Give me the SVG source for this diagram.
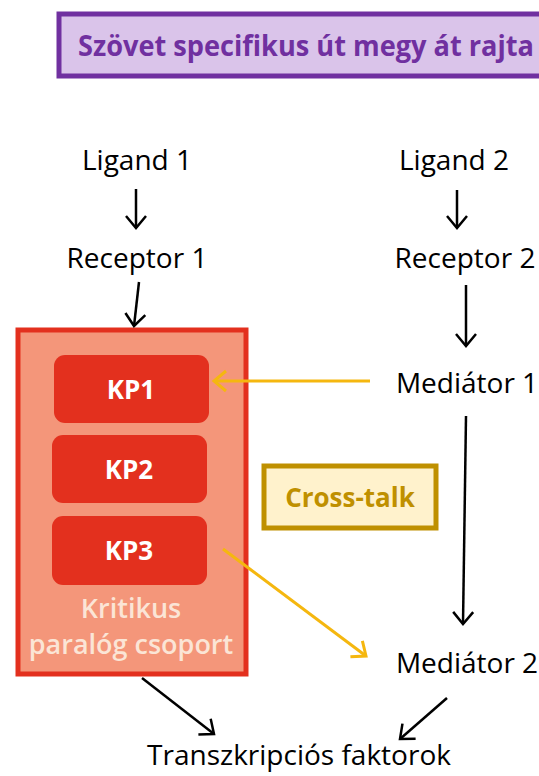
<svg xmlns="http://www.w3.org/2000/svg" width="539" height="776" viewBox="0 0 539 776">
<style>
.t{font-family:"Open Sans","Liberation Sans",sans-serif;font-size:28px;fill:#000;text-anchor:middle;dominant-baseline:central}
.kp{font-family:"Open Sans","Liberation Sans",sans-serif;font-size:26px;font-weight:bold;fill:#fff;text-anchor:middle;dominant-baseline:central}
.grp{font-family:"Open Sans","Liberation Sans",sans-serif;font-size:27px;font-weight:600;fill:#fbe5d6;text-anchor:middle;dominant-baseline:central}
.blk{stroke:#000;stroke-width:2.5;fill:none}
.yel{stroke:#f5b70f;stroke-width:3;fill:none}
</style>
<defs>
<marker id="ab" markerUnits="userSpaceOnUse" markerWidth="30" markerHeight="30" refX="14" refY="12" orient="auto" viewBox="0 0 30 30">
<path d="M2,2 L14,12 L2,22" fill="none" stroke="#000" stroke-width="2.5"/>
</marker>
<marker id="ay" markerUnits="userSpaceOnUse" markerWidth="30" markerHeight="30" refX="14" refY="12" orient="auto" viewBox="0 0 30 30">
<path d="M2,2 L14,12 L2,22" fill="none" stroke="#f5b70f" stroke-width="3"/>
</marker>
</defs>
<g id="title">
<rect x="59" y="14" width="490" height="62" fill="#dac4ea" stroke="#7030a0" stroke-width="5"/>
<text x="306" y="45" font-family="Open Sans, Liberation Sans, sans-serif" font-size="28" font-weight="bold" fill="#7030a0" text-anchor="middle" dominant-baseline="central" textLength="456" lengthAdjust="spacingAndGlyphs">Szövet specifikus út megy át rajta</text>
</g>
<g id="ligand1"><text class="t" x="137" y="159">Ligand 1</text></g>
<g id="receptor1"><text class="t" x="137" y="257">Receptor 1</text></g>
<g id="ligand2"><text class="t" x="454" y="159">Ligand 2</text></g>
<g id="receptor2"><text class="t" x="465" y="257">Receptor 2</text></g>
<g id="mediator1"><text class="t" x="467" y="382">Mediátor 1</text></g>
<g id="mediator2"><text class="t" x="467" y="662">Mediátor 2</text></g>
<g id="tf"><text class="t" x="299" y="754">Transzkripciós faktorok</text></g>
<g id="group">
<rect x="18" y="330" width="228" height="344" fill="#f4967a" stroke="#e3301e" stroke-width="5"/>
<text class="grp" x="131" y="607">Kritikus</text>
<text class="grp" x="131" y="643">paralóg csoport</text>
</g>
<g id="kp1"><rect x="54" y="355" width="155" height="68" rx="11" fill="#e3301e"/><text class="kp" x="131" y="389">KP1</text></g>
<g id="kp2"><rect x="52" y="435" width="155" height="68" rx="11" fill="#e3301e"/><text class="kp" x="129" y="469">KP2</text></g>
<g id="kp3"><rect x="52" y="516" width="155" height="69" rx="11" fill="#e3301e"/><text class="kp" x="129" y="550">KP3</text></g>
<g id="crosstalk">
<rect x="264" y="466" width="172" height="62" fill="#fff2cc" stroke="#bf9000" stroke-width="5"/>
<text x="350" y="497" font-family="Open Sans, Liberation Sans, sans-serif" font-size="26" font-weight="bold" fill="#bf9000" text-anchor="middle" dominant-baseline="central">Cross-talk</text>
</g>
<g id="connectors">
<line class="blk" x1="136" y1="189" x2="136" y2="228" marker-end="url(#ab)"/>
<line class="blk" x1="139" y1="282" x2="134" y2="326" marker-end="url(#ab)"/>
<line class="blk" x1="457" y1="190" x2="457" y2="228" marker-end="url(#ab)"/>
<line class="blk" x1="466" y1="285" x2="466" y2="346" marker-end="url(#ab)"/>
<line class="blk" x1="466" y1="416" x2="463" y2="624" marker-end="url(#ab)"/>
<line class="blk" x1="142" y1="678" x2="214" y2="734" marker-end="url(#ab)"/>
<line class="blk" x1="447" y1="698" x2="400" y2="739" marker-end="url(#ab)"/>
<line class="yel" x1="370" y1="381" x2="214" y2="381" marker-end="url(#ay)"/>
<line class="yel" x1="223" y1="549" x2="366" y2="656" marker-end="url(#ay)"/>
</g>
</svg>
